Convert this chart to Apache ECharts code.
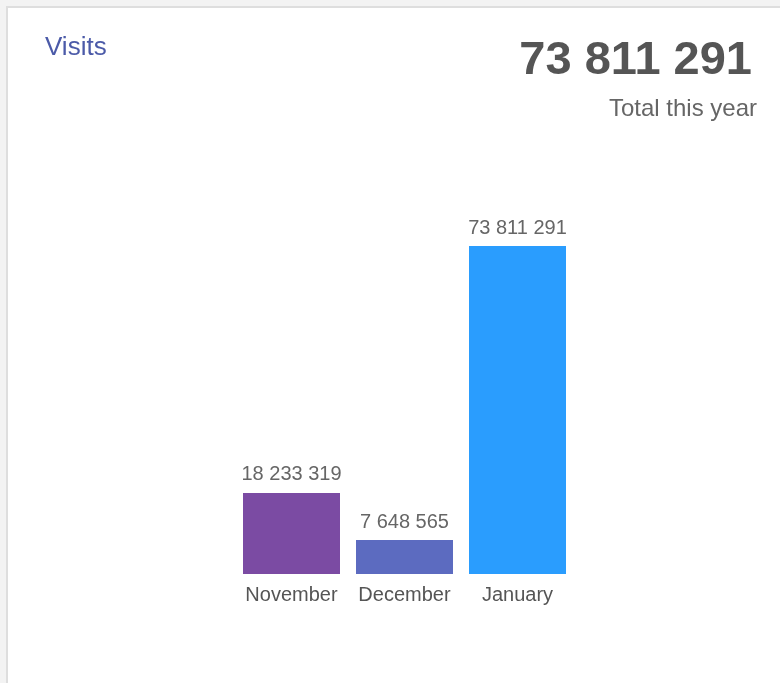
<!DOCTYPE html>
<html>
<head>
<meta charset="utf-8">
<script src="https://cdn.jsdelivr.net/npm/echarts@6/dist/echarts.min.js"></script>
<style>
  html, body { margin: 0; padding: 0; background: #f3f3f3; }
  #chart { width: 780px; height: 683px; }
</style>
</head>
<body>
<div id="chart"></div>
<script>
// ---- data ----
const categories = ['November', 'December', 'January'];
const visits = [18233319, 7648565, 73811291];
const barColors = ['#7b4ba3', '#5c6bc0', '#2a9dfe'];
const chartTitle = 'Visits';
const totalLabel = 'Total this year';
const totalValue = 73811291;

function fmt(n) {
  return String(n).replace(/\B(?=(\d{3})+(?!\d))/g, ' ');
}

const chart = echarts.init(document.getElementById('chart'));
chart.setOption({
  animation: false,
  backgroundColor: '#f3f3f3',
  graphic: [{
    type: 'rect',
    z: -10,
    shape: { x: 7, y: 7, width: 800, height: 700 },
    style: { fill: '#ffffff', stroke: '#dedede', lineWidth: 2 }
  }],
  title: [
    {
      text: chartTitle, left: 45, top: 35, padding: 0,
      textStyle: { fontFamily: 'Liberation Sans, Arial, sans-serif', fontSize: 26, fontWeight: 'normal', color: '#4b5aa8' }
    },
    {
      text: fmt(totalValue), right: 28, top: 38, padding: 0,
      textStyle: { fontFamily: 'Liberation Sans, Arial, sans-serif', fontSize: 47, fontWeight: 'bold', color: '#555555' }
    },
    {
      text: totalLabel, right: 23, top: 97, padding: 0,
      textStyle: { fontFamily: 'Liberation Sans, Arial, sans-serif', fontSize: 24, fontWeight: 'normal', color: '#666666' }
    }
  ],
  grid: { left: 235, width: 339, top: 246, bottom: 109, containLabel: false },
  xAxis: {
    type: 'category',
    data: categories,
    axisLine: { show: false },
    axisTick: { show: false },
    axisLabel: {
      interval: 0, hideOverlap: false,
      margin: 11, fontSize: 20, color: '#555555',
      fontFamily: 'Liberation Sans, Arial, sans-serif'
    }
  },
  yAxis: {
    type: 'value',
    min: 0,
    max: function (v) { return v.max; },
    show: false,
    splitLine: { show: false }
  },
  series: [{
    type: 'bar',
    barWidth: 97,
    data: visits.map((v, i) => ({ value: v, itemStyle: { color: barColors[i] } })),
    label: {
      show: true, position: 'top', distance: 8,
      fontSize: 20, color: '#666666',
      fontFamily: 'Liberation Sans, Arial, sans-serif',
      formatter: p => fmt(p.value)
    }
  }]
});
</script>
</body>
</html>
